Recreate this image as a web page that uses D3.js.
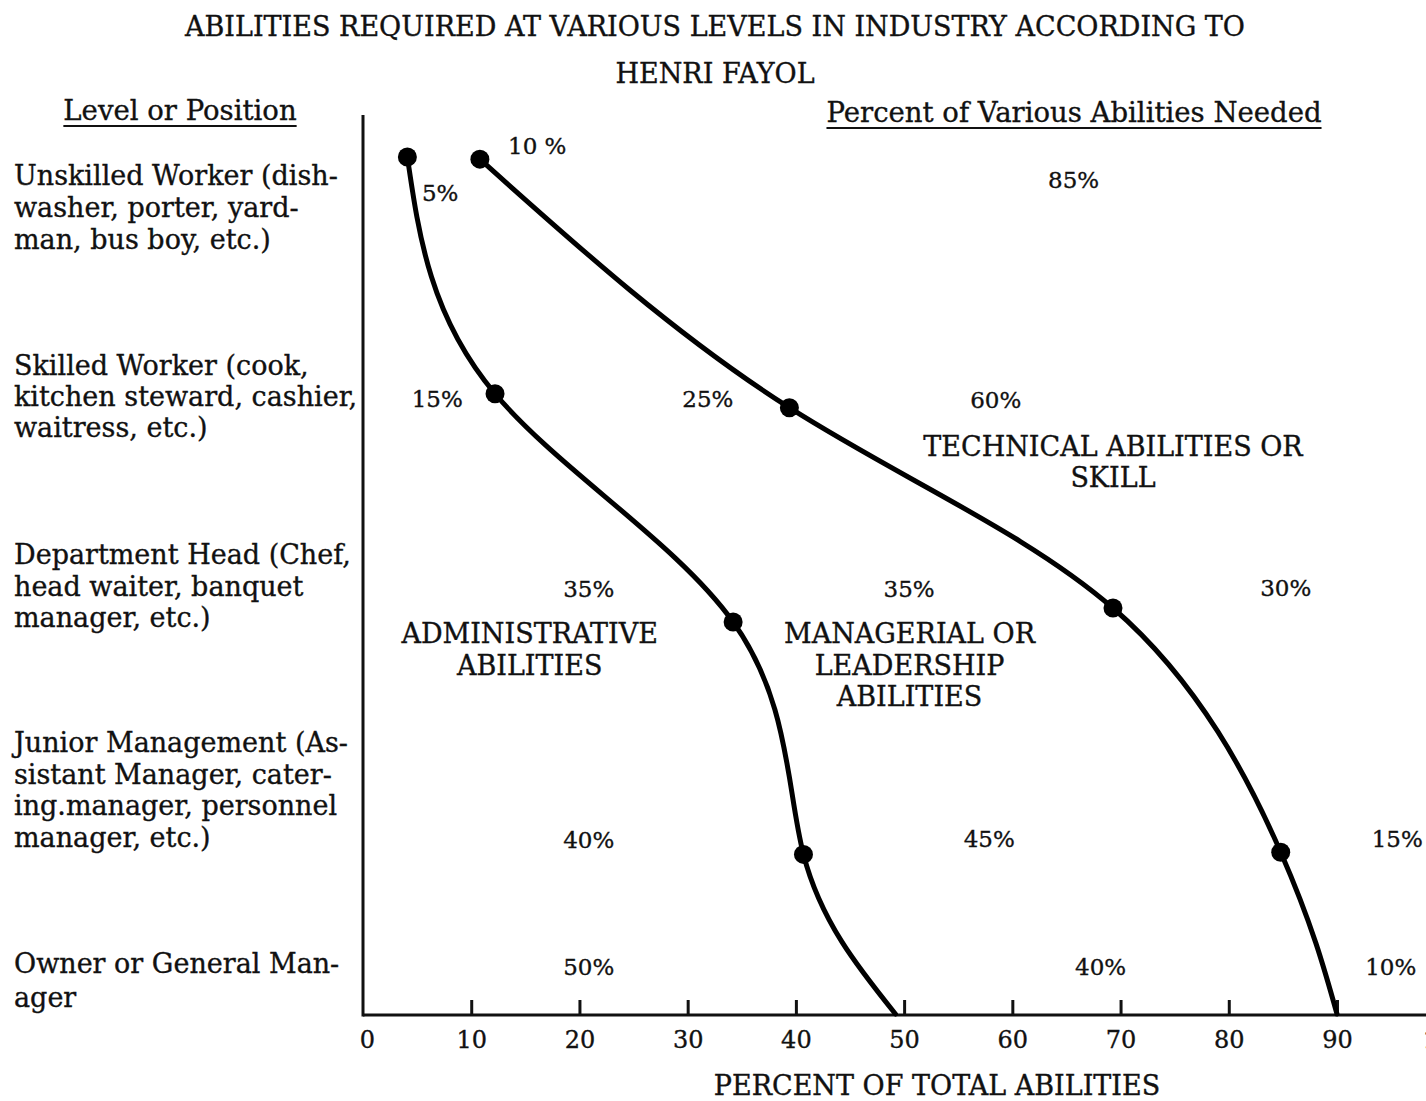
<!DOCTYPE html>
<html>
<head>
<meta charset="utf-8">
<script src="https://cdn.jsdelivr.net/npm/d3@7"></script>
<style>
  html, body { margin: 0; padding: 0; background: #fff; }
  svg text { font-family: "DejaVu Serif", "Liberation Serif", serif; fill: #111; stroke: #111; stroke-width: 0.35px; }
</style>
</head>
<body>
<svg id="chart" width="1426" height="1101"></svg>
<script>
// ---- data ----
const levelLabels = [
  ["Unskilled Worker (dish-", "washer, porter, yard-", "man, bus boy, etc.)"],
  ["Skilled Worker (cook,", "kitchen steward, cashier,", "waitress, etc.)"],
  ["Department Head (Chef,", "head waiter, banquet", "manager, etc.)"],
  ["Junior Management (As-", "sistant Manager, cater-", "ing.manager, personnel", "manager, etc.)"],
  ["Owner or General Man-", "ager"]
]
const adminPct = [5, 15, 35, 40, 50]
const managerialPct = [10, 25, 35, 45, 40]
const technicalPct = [85, 60, 30, 15, 10]

// where the two hand-drawn curves actually pass (x in %, y in level units)
const adminCurveX = [4.1, 12.2, 34.2, 40.7, 49.2]
const adminCurveLevel = [0, 1.105, 2.17, 3.255, 4]
const skillCurveX = [10.8, 39.4, 69.3, 84.8, 90]
const skillCurveLevel = [0.01, 1.17, 2.105, 3.245, 4]

const xTicks = [0, 10, 20, 30, 40, 50, 60, 70, 80, 90, 100]

// ---- layout ----
const svg = d3.select('#chart')
const x0 = 363, yTop = 115, yBase = 1015

const x = d3.scaleLinear().domain([0, 90]).range([x0, 1337])
const y = d3.scaleLinear().domain([0, 4]).range([157, 1014])

// title
svg.append('text').attr('x', 715).attr('y', 36).attr('text-anchor', 'middle')
  .style('font-size', '27px')
  .text('ABILITIES REQUIRED AT VARIOUS LEVELS IN INDUSTRY ACCORDING TO')
svg.append('text').attr('x', 715).attr('y', 83).attr('text-anchor', 'middle')
  .style('font-size', '27px')
  .text('HENRI FAYOL')

// column headers (underlined)
const heads = [
  {t: 'Level or Position', x: 180, y: 120},
  {t: 'Percent of Various Abilities Needed', x: 1074, y: 122}
]
heads.forEach(h => {
  const t = svg.append('text').attr('x', h.x).attr('y', h.y).attr('text-anchor', 'middle')
    .style('font-size', '27.5px').text(h.t)
  const bb = t.node().getBBox()
  svg.append('line')
    .attr('x1', bb.x).attr('x2', bb.x + bb.width)
    .attr('y1', h.y + 6).attr('y2', h.y + 6)
    .attr('stroke', '#111').attr('stroke-width', 2)
})

// row labels on the left
const rowBaselines = [185, 375, 564, 752, 973]
const rowLeading = [32, 31, 31.5, 31.5, 34]
levelLabels.forEach((lines, i) => {
  const t = svg.append('text').style('font-size', '27px')
  lines.forEach((ln, j) => {
    t.append('tspan').attr('x', 14).attr('y', rowBaselines[i] + j * rowLeading[i]).text(ln)
  })
})

// axes
svg.append('line')
  .attr('x1', x0).attr('x2', x0).attr('y1', yTop).attr('y2', yBase + 1.5)
  .attr('stroke', '#111').attr('stroke-width', 3)

const xAxis = d3.axisBottom(x)
  .tickValues(xTicks)
  .tickSizeInner(-15)
  .tickSizeOuter(0)
  .tickPadding(16)
  .tickFormat(d3.format('d'))

const gx = svg.append('g').attr('transform', `translate(0,${yBase})`).call(xAxis)
gx.select('.domain').attr('d', `M${x0},0H1426`).attr('stroke', '#111').attr('stroke-width', 3)
gx.selectAll('.tick line').attr('stroke', '#111').attr('stroke-width', 3)
  .filter(d => d === 0).remove()
gx.selectAll('.tick text').attr('fill', '#111')
  .style('font-family', '"DejaVu Serif", serif').style('font-size', '24px')
gx.selectAll('.tick').filter(d => d === 0).select('text').attr('x', 4)

svg.append('text').attr('x', 937).attr('y', 1095).attr('text-anchor', 'middle')
  .style('font-size', '27px').text('PERCENT OF TOTAL ABILITIES')

// curves
const line = d3.line()
  .x(d => x(d[0]))
  .y(d => y(d[1]))
  .curve(d3.curveNatural)

const curves = [
  d3.zip(adminCurveX, adminCurveLevel),
  d3.zip(skillCurveX, skillCurveLevel)
]

svg.selectAll('path.curve').data(curves).join('path')
  .attr('class', 'curve')
  .attr('d', line)
  .attr('fill', 'none')
  .attr('stroke', '#000')
  .attr('stroke-width', 5)
  .attr('stroke-linecap', 'round')

// dots on every level except the bottom one (which sits on the axis)
svg.selectAll('circle.dot').data(curves.flatMap(c => c.slice(0, 4))).join('circle')
  .attr('class', 'dot')
  .attr('cx', d => x(d[0]))
  .attr('cy', d => y(d[1]))
  .attr('r', 9.5)
  .attr('fill', '#000')

// percent labels: [admin, managerial, technical] per level, anchored at left/baseline
const pctPos = [
  [[5.45, 0.205], [13.4, -0.014], [63.3, 0.145]],
  [[4.5, 1.167], [29.5, 1.167], [56.1, 1.171]],
  [[18.5, 2.054], [48.1, 2.054], [82.9, 2.049]],
  [[18.5, 3.225], [55.5, 3.22], [93.2, 3.22]],
  [[18.5, 3.818], [65.8, 3.818], [92.6, 3.818]]
]
const pctRows = adminPct.map((a, i) => [a, managerialPct[i], technicalPct[i]])
pctRows.forEach((row, i) => {
  svg.selectAll(null).data(row).join('text')
    .attr('class', 'pct')
    .attr('x', (d, j) => x(pctPos[i][j][0]))
    .attr('y', (d, j) => y(pctPos[i][j][1]))
    .style('font-size', '23px')
    .text((d, j) => (i === 0 && j === 1) ? d + ' %' : d + '%')
})

// area labels
const areaLabels = [
  {lines: ['ADMINISTRATIVE', 'ABILITIES'], cx: 15.4, lv: 2.27},
  {lines: ['MANAGERIAL OR', 'LEADERSHIP', 'ABILITIES'], cx: 50.5, lv: 2.27},
  {lines: ['TECHNICAL ABILITIES OR', 'SKILL'], cx: 69.3, lv: 1.395}
]
areaLabels.forEach(a => {
  const t = svg.append('text').attr('text-anchor', 'middle').style('font-size', '27px')
  a.lines.forEach((ln, j) => {
    t.append('tspan').attr('x', x(a.cx)).attr('y', y(a.lv) + j * 31.5).text(ln)
  })
})
</script>
</body>
</html>
